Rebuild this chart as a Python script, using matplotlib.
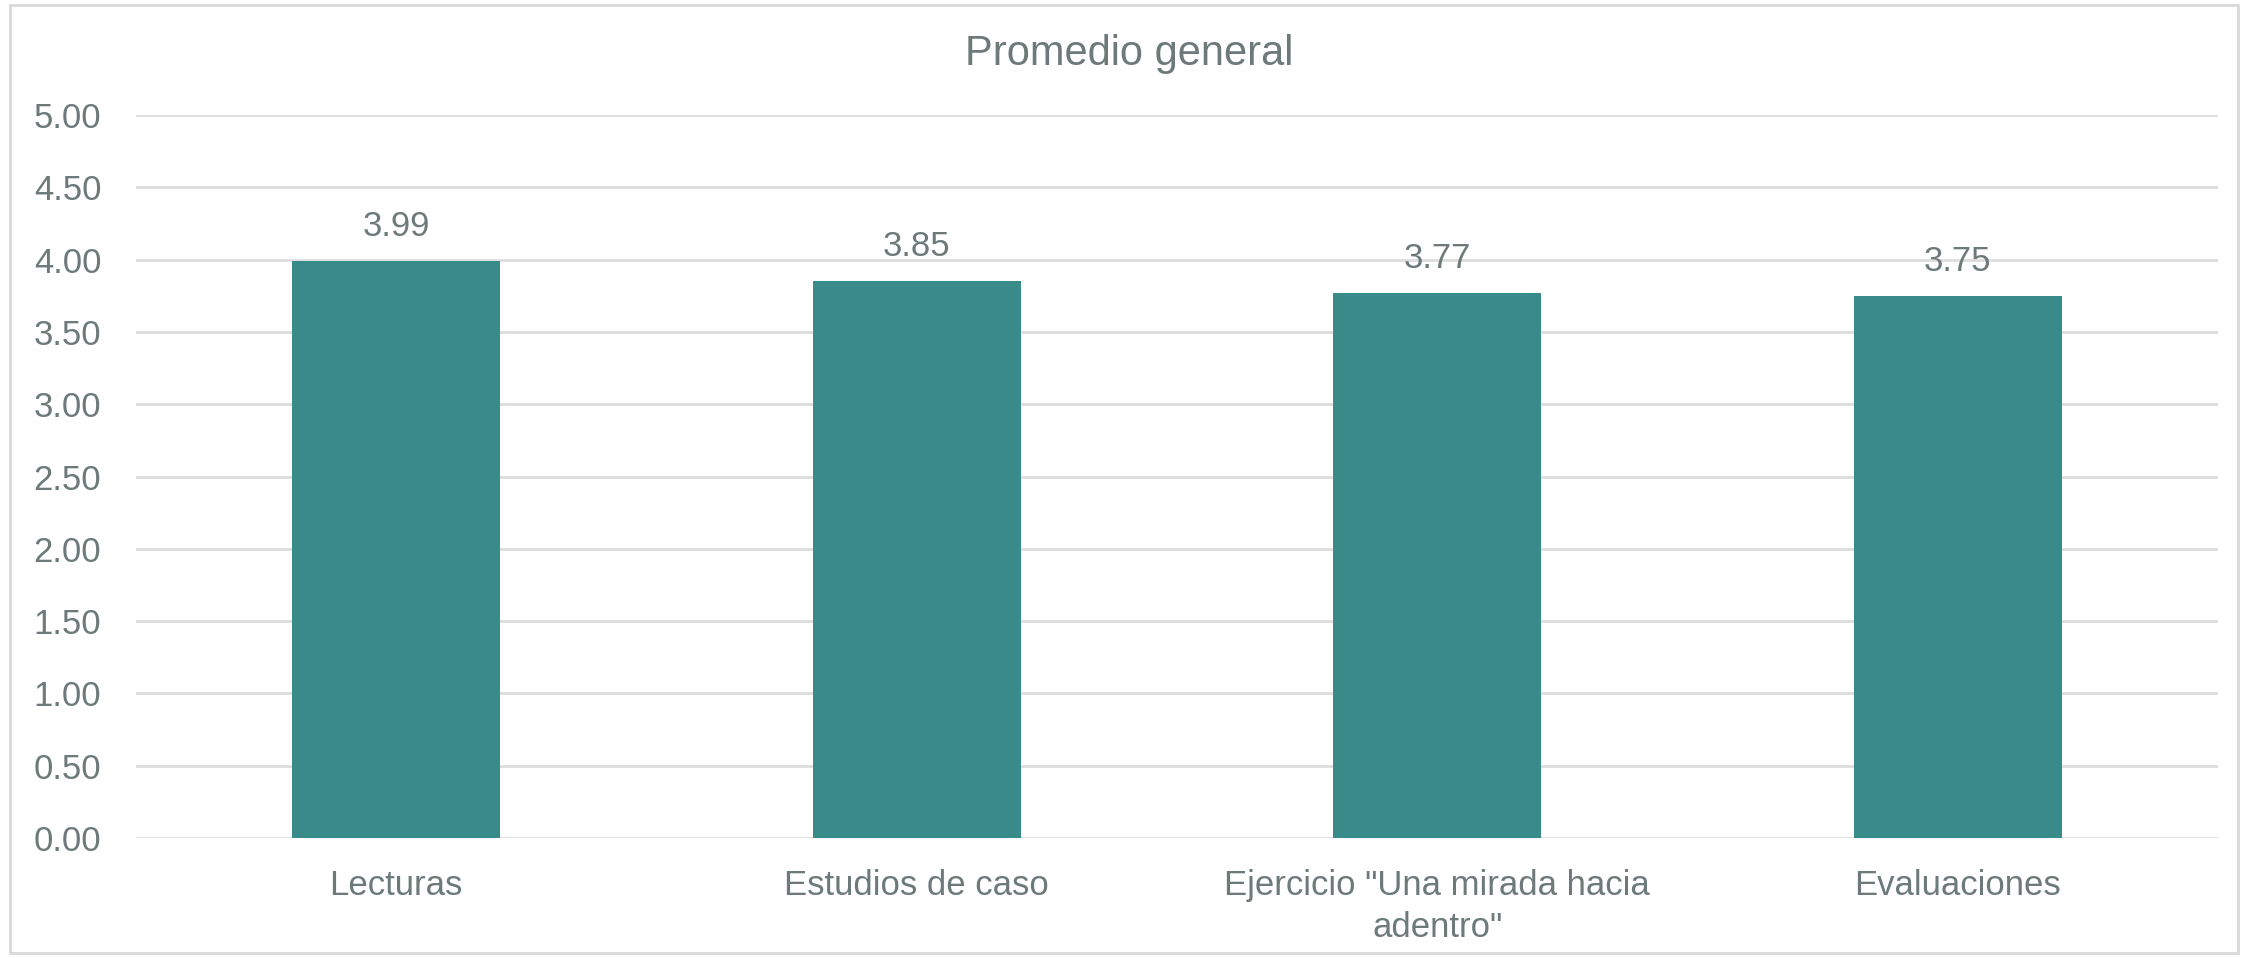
import matplotlib
matplotlib.use("Agg")
import matplotlib.pyplot as plt
from matplotlib.patches import Rectangle

# data
categorias = ["Lecturas", "Estudios de caso", 'Ejercicio "Una mirada hacia\nadentro"', "Evaluaciones"]
promedios = [3.99, 3.85, 3.77, 3.75]
y_ticks = [0, 0.5, 1, 1.5, 2, 2.5, 3, 3.5, 4, 4.5, 5]

text_color = "#6E7A7A"
bar_color = "#398B89"
grid_color = "#DDDDDD"

plt.rcParams["font.family"] = ["Liberation Sans", "DejaVu Sans"]

fig = plt.figure(figsize=(22.45, 9.58), dpi=100)
ax = fig.add_axes([136 / 2245, 1 - 838 / 958, (2218 - 136) / 2245, (838 - 115) / 958])

x = range(len(categorias))
bars = ax.bar(x, promedios, width=0.4, color=bar_color, zorder=3)

for b, v in zip(bars, promedios):
    ax.annotate(f"{v:.2f}", (b.get_x() + b.get_width() / 2, v), xytext=(0, 13),
                textcoords="offset points", ha="center", va="bottom",
                fontsize=25, color=text_color)

ax.set_xlim(-0.5, len(categorias) - 0.5)
ax.set_ylim(0, 5)
ax.set_yticks(y_ticks)
ax.set_yticklabels([f"{t:.2f}" for t in y_ticks])
ax.set_xticks(list(x))
ax.set_xticklabels(categorias, linespacing=1.35)
ax.tick_params(axis="both", length=0, labelsize=25, labelcolor=text_color)
ax.tick_params(axis="y", pad=25)
ax.tick_params(axis="x", pad=22)

ax.grid(axis="y", color=grid_color, linewidth=2, zorder=0)
for s in ax.spines.values():
    s.set_visible(False)

fig.text(1129 / 2245, 1 - 54 / 958, "Promedio general", ha="center", va="center",
         fontsize=30, color=text_color)

# outer chart border
fig.patches.append(Rectangle((10 / 2245, 5 / 958), 2228 / 2245, 948 / 958,
                             transform=fig.transFigure, fill=False,
                             edgecolor="#D9D9D9", linewidth=2))

fig.savefig("out.png", dpi=100, facecolor="white")
